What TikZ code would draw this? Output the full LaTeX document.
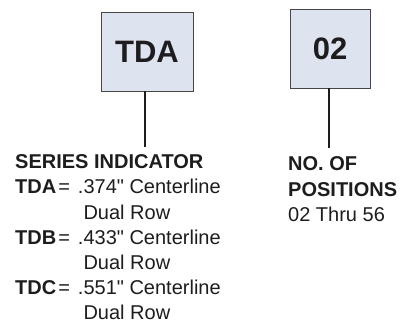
\documentclass[tikz,border=0pt]{standalone}
\usepackage{fontspec}
\setmainfont{Liberation Sans}[Ligatures=TeXOff]
\definecolor{boxfill}{RGB}{221,228,240}
\definecolor{boxline}{RGB}{70,70,70}
\definecolor{ink}{RGB}{30,28,30}
\newcommand{\inchmark}{\symbol{34}}
\newcommand{\keyeq}[1]{\textbf{#1}\hspace{2pt}=\hspace{8pt}}
\begin{document}
\begin{tikzpicture}[x=1pt,y=1pt,
  codebox/.style={draw=boxline,line width=0.9pt,fill=boxfill,inner sep=0pt,
    font=\fontsize{31}{31}\selectfont\bfseries,text=ink},
  lbl/.style={anchor=base west,inner sep=0pt,font=\fontsize{20}{22}\selectfont,text=ink},
  head/.style={lbl,font=\fontsize{20}{22}\selectfont\bfseries},
  leader/.style={draw=ink,line width=1.6pt}]
\useasboundingbox (0,0) rectangle (411,322);
% code boxes
\node[codebox,minimum width=92pt,minimum height=79pt] (tda) at (147,270.5) {TDA};
\node[codebox,minimum width=80pt,minimum height=79pt] (pos) at (330,273.5) {02};
% leader lines
\coordinate (tdaend) at (145,175);
\coordinate (posend) at (329,174);
\draw[leader] (tda.south -| tdaend) -- (tdaend);
\draw[leader] (pos.south -| posend) -- (posend);
% series indicator
\node[head] (sh) at (15,154) {SERIES INDICATOR};
\node[lbl] (va) at (15,129) {\keyeq{TDA}.374\inchmark{} Centerline};
\node[lbl] (da) at (15,103) {\phantom{\keyeq{TDA}.}Dual Row};
\node[lbl] (vb) at (15,78) {\keyeq{TDB}.433\inchmark{} Centerline};
\node[lbl] (db) at (15,53) {\phantom{\keyeq{TDA}.}Dual Row};
\node[lbl] (vc) at (15,28) {\keyeq{TDC}.551\inchmark{} Centerline};
\node[lbl] (dc) at (15,3) {\phantom{\keyeq{TDA}.}Dual Row};
% number of positions
\node[head] (ph1) at (288,152) {NO. OF};
\node[head] (ph2) at (288,126) {POSITIONS};
\node[lbl]  (pr) at (288,101) {02 Thru 56};
\end{tikzpicture}
\end{document}
